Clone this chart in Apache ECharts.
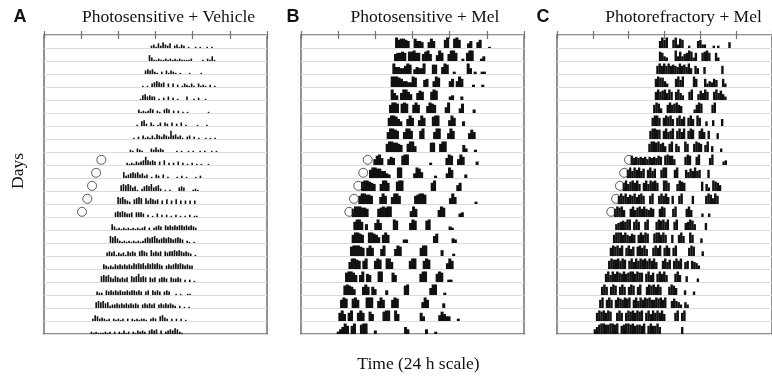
<!DOCTYPE html>
<html>
<head>
<meta charset="utf-8">
<script src="https://cdn.jsdelivr.net/npm/echarts@6/dist/echarts.min.js"></script>
<style>
  html, body { margin: 0; padding: 0; background: #fff; }
  #chart { width: 772px; height: 380px; }
</style>
</head>
<body>
<div id="chart"></div>
<script>
// x axis: hours of the day, ticks every 4 h
const tickHours = [0, 4, 8, 12, 16, 20, 24];
const binHours = 0.25;            // each character of a row string is one 15-min bin
const panelLetters = ['A', 'B', 'C'];
const panelTitles = ['Photosensitive + Vehicle', 'Photosensitive + Mel', 'Photorefractory + Mel'];
const onsetRows = [9, 10, 11, 12, 13];

// Panel A: start hour of each day's record and bin heights (0-9)
const startA = [11.48, 11.27, 10.84, 10.55, 10.30, 10.12, 9.94, 9.58, 9.22, 8.86, 8.50, 8.22,
  7.89, 7.61, 7.25, 7.07, 6.71, 6.35, 6.10, 5.63, 5.53, 5.17, 5.02];
const actA = [
  '231425324023132010010100101',
  '53112112121212111120000102141',
  '34342102031321010001000010',
  '10103454340303020132131031210201',
  '145343301020302010003001020010',
  '3121243021034302020101000000001',
  '1045203101303203020301000010001',
  '102031213143243273423102302010010101',
  '21032100032423200000101001010010100101',
  '2121323474343030402020302010201010010',
  '5234545342301032030100010201000102',
  '5656534102454634520101000343000121',
  '6564320456505354340304030403030303',
  '454543340444302010302020102010102011',
  '5312121212121230202343043434344343432',
  '65642121212121245456434545434543021010',
  '3434132314343045430534340434454543432010',
  '432324343434354545354545430343454543433',
  '56564354343405457454043403443043343020201',
  '322043434343343443430340434303430010100110',
  '565645233434343434303434340343434320201010',
  '254232120212120202121221023204532020202010',
  '2121112120202131202132320343403023435421'
];
const onsetA = [6.17, 5.60, 5.17, 4.66, 4.09];

// Panel B
const startB = [10.12, 10.01, 9.83, 9.65, 9.65, 9.47, 9.33, 9.22, 9.11, 7.79, 7.32, 6.46,
  6.17, 5.45, 5.63, 5.45, 5.27, 5.10, 4.74, 4.56, 4.20, 4.02, 3.84];
const actB = [
  '97887600866500586000079008970004600570001',
  '677870889770689600597006997002079900024',
  '9665579804655900088006980020000095020022',
  '9998755449800067005980000570597000020002',
  '9640699750068700079800000340003',
  '7998089800797000698700005900004800003',
  '799864006970059700089900005970004',
  '69987006997000790000699000597000000586',
  '799887600799500000088007990000000630002',
  '589600576000899000000000200000069800597000003',
  '799886643000990000049850000020000497000003',
  '8998760069970008990000000000007900000000057',
  '799887000697006997000000789980000000000596000000002',
  '799988700007898990000000059700000000069800000034',
  '7997050006960000098000006980000890000000032',
  '799870099875079700000033000000000006800000043',
  '899987079700069000069800000000799000000500002',
  '699870790007980099600000007990007980000000597',
  '8998606907600099000086000000000079900007980022',
  '89875000797075000040000000890000000006990002',
  '798008970009990069700079800000000005970000004',
  '7960790079700860000899009600000000074000000586440002',
  '2469707900899000300000000000064000000040002'
];
const onsetB = [7.18, 6.70, 6.17, 5.70, 5.20];

// Panel C
const startC = [11.37, 11.37, 11.08, 10.91, 10.91, 10.73, 10.55, 10.30, 10.19, 8.21, 7.78, 7.32,
  6.78, 6.35, 6.49, 6.24, 5.88, 5.70, 5.34, 4.91, 4.70, 4.34, 4.09];
const actC = [
  '69790079387002000673300020200005',
  '874300094846798370078970073',
  '797979787697869507500600000007',
  '79885300079690000970007354760073',
  '79789697079640079005869700796853',
  '7984007978976000003798000079',
  '79970798960796807960970040050006',
  '7998807967907969079800796070005',
  '799897850790750097007987069050003',
  '8676767576768708988500007980079000069000034',
  '7969796807968007990007900075869670007',
  '79689796079698970099700069870000000806309875',
  '797968796897007900797960700790000700000798597',
  '7989600796897976870079800079000079600003003',
  '56787990797007900079897900790006798500006',
  '7999797687079798008997970070079600970004',
  '798979079680897960079790797079000007980004',
  '79889798079697989797960079680797906707653',
  '796979879789979880796807979600079600500003',
  '797079807970798079007989797000798600040003',
  '7907970798798907969798977989790068653053',
  '7989798007970798979890796979796000079079',
  '4689988998907899897887907977960000000006'
];
const onsetC = [8.04, 7.50, 7.03, 6.60, 6.06];

const nDays = startA.length;
const panels = [
  { starts: startA, acts: actA, onsets: onsetA, left: 44, barFrac: 0.6 },
  { starts: startB, acts: actB, onsets: onsetB, left: 301, barFrac: 1 },
  { starts: startC, acts: actC, onsets: onsetC, left: 557, barFrac: 0.9 }
];

function toBins(starts, acts) {
  const out = [];
  acts.forEach((s, row) => {
    for (let j = 0; j < s.length; j++) {
      const h = +s[j];
      if (h > 0) out.push([starts[row] + j * binHours, row, h]);
    }
  });
  return out;
}

function barRenderer(frac) {
  return function (params, api) {
    const t = api.value(0), row = api.value(1), h = api.value(2);
    const a = api.coord([t, row + 1]);
    const b = api.coord([t + binHours * frac, row + 1 - h * 0.09]);
    // a little overlap so neighbouring bins merge into solid bouts
    const w = b[0] - a[0] + (frac === 1 ? 0.7 : frac > 0.8 ? 0.4 : 0.2);
    return {
      type: 'rect',
      shape: { x: a[0], y: b[1], width: w, height: a[1] - b[1] },
      style: { fill: '#111' }
    };
  };
}

const frameCol = '#707070';
const grid = [], xAxis = [], yAxis = [], series = [], graphic = [];

panels.forEach((p, i) => {
  grid.push({ left: p.left, top: 35, width: 223, height: 299,
    show: true, borderColor: frameCol, borderWidth: 1.5, backgroundColor: 'transparent' });
  ['bottom', 'top'].forEach(pos => {
    xAxis.push({
      type: 'value', gridIndex: i, position: pos, min: 0, max: 24, interval: 4,
      axisLine: { show: false },
      axisTick: { show: true, inside: false, length: 4, lineStyle: { color: frameCol, width: 1.2 } },
      axisLabel: { show: false },
      splitLine: { show: false }
    });
  });
  yAxis.push({
    type: 'value', gridIndex: i, min: 0, max: nDays, interval: 1, inverse: true,
    axisLine: { show: false }, axisTick: { show: false }, axisLabel: { show: false },
    splitLine: { show: true, lineStyle: { color: '#dcdcdc', width: 1 } }
  });
  series.push({
    type: 'custom', xAxisIndex: i * 2, yAxisIndex: i,
    renderItem: barRenderer(p.barFrac),
    data: toBins(p.starts, p.acts), z: 2, clip: false
  });
  series.push({
    type: 'scatter', xAxisIndex: i * 2, yAxisIndex: i,
    data: p.onsets.map((h, k) => [h, onsetRows[k] + 0.6]),
    symbol: 'circle', symbolSize: 9,
    itemStyle: { color: 'rgba(0,0,0,0)', borderColor: '#333', borderWidth: 1 },
    z: 3
  });
});

const serif = '"Liberation Serif", "DejaVu Serif", serif';
const letterX = [20, 293, 543];
const titleX = [168.5, 425, 683.5];
panels.forEach((p, i) => {
  graphic.push({ type: 'text', x: letterX[i], y: 17,
    style: { text: panelLetters[i], font: 'bold 18px "Liberation Sans", Arial, sans-serif',
      fill: '#111', align: 'center', verticalAlign: 'middle' } });
  graphic.push({ type: 'text', x: titleX[i], y: 17,
    style: { text: panelTitles[i], font: '17.5px ' + serif,
      fill: '#111', align: 'center', verticalAlign: 'middle' } });
});
graphic.push({ type: 'text', x: 18.5, y: 171, rotation: Math.PI / 2,
  style: { text: 'Days', font: '17.5px ' + serif, fill: '#111', align: 'center', verticalAlign: 'middle' } });
graphic.push({ type: 'text', x: 418.5, y: 364,
  style: { text: 'Time (24 h scale)', font: '17.5px ' + serif, fill: '#111', align: 'center', verticalAlign: 'middle' } });

const chart = echarts.init(document.getElementById('chart'), null, { renderer: 'canvas' });
chart.setOption({
  animation: false,
  backgroundColor: '#fff',
  grid, xAxis, yAxis, series, graphic
});
</script>
</body>
</html>
